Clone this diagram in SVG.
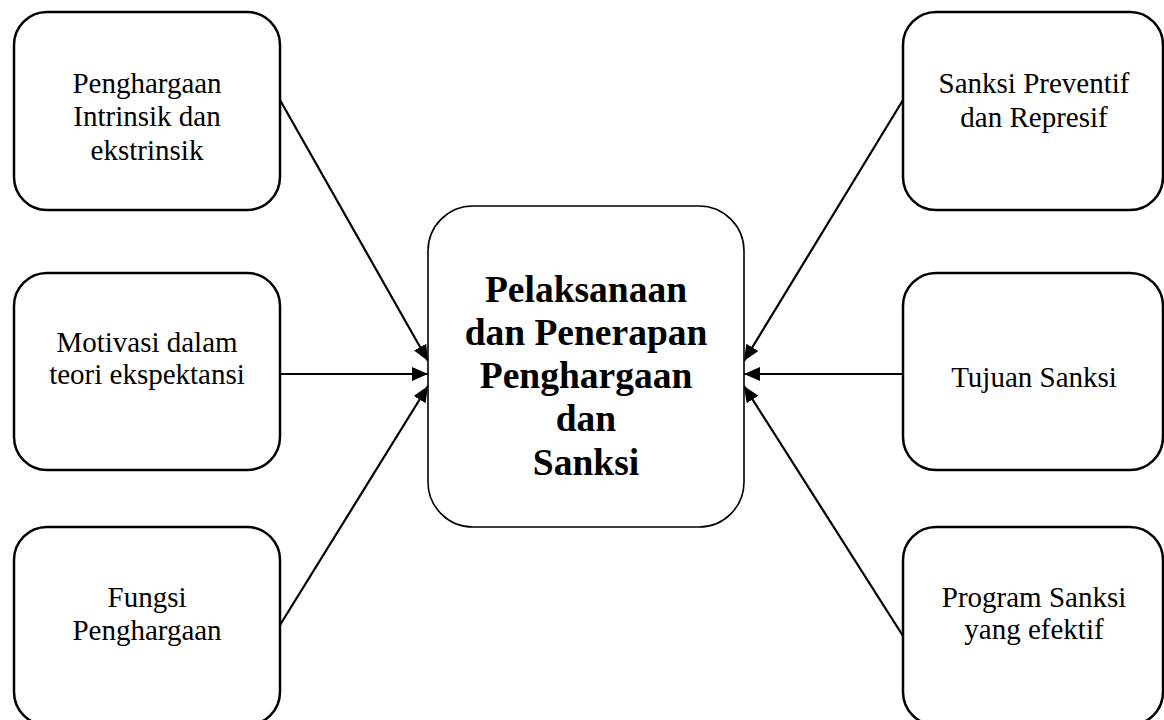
<svg xmlns="http://www.w3.org/2000/svg" width="1164" height="720" viewBox="0 0 1164 720">
<style>
.box{fill:#fff;stroke:#000;stroke-width:2.5}
.main{fill:#fff;stroke:#000;stroke-width:1.6}
.t{font-family:"Liberation Serif","Times New Roman",serif;font-size:29px;fill:#000;text-anchor:middle}
.b{font-family:"Liberation Serif","Times New Roman",serif;font-size:37.5px;font-weight:bold;fill:#000;text-anchor:middle}
.c{stroke:#000;stroke-width:2.2;fill:none;marker-end:url(#ah)}
</style>
<defs>
<marker id="ah" markerUnits="userSpaceOnUse" markerWidth="17" markerHeight="15" refX="16" refY="7" orient="auto">
<path d="M0,0 L16,7 L0,14 z" fill="#000"/>
</marker>
</defs>
<rect width="1164" height="720" fill="#fff"/>
<g id="connectors">
<line class="c" x1="280" y1="100" x2="428" y2="361"/>
<line class="c" x1="280" y1="374" x2="428" y2="374"/>
<line class="c" x1="280" y1="625" x2="428" y2="386"/>
<line class="c" x1="903" y1="100" x2="744" y2="361"/>
<line class="c" x1="903" y1="374" x2="744" y2="374"/>
<line class="c" x1="903" y1="636" x2="744" y2="386"/>
</g>
<g id="n-center">
<rect class="main" x="428" y="206" width="316" height="321" rx="45"/>
<text class="b" x="586" y="302">Pelaksanaan</text>
<text class="b" x="586" y="345">dan Penerapan</text>
<text class="b" x="586" y="388">Penghargaan</text>
<text class="b" x="586" y="431">dan</text>
<text class="b" x="586" y="475">Sanksi</text>
</g>
<g id="n-intrinsik">
<rect class="box" x="14" y="12" width="266" height="198" rx="33"/>
<text class="t" x="147" y="93">Penghargaan</text>
<text class="t" x="147" y="126">Intrinsik dan</text>
<text class="t" x="147" y="160">ekstrinsik</text>
</g>
<g id="n-motivasi">
<rect class="box" x="14" y="273" width="266" height="197" rx="33"/>
<text class="t" x="147" y="352">Motivasi dalam</text>
<text class="t" x="147" y="384">teori ekspektansi</text>
</g>
<g id="n-fungsi">
<rect class="box" x="14" y="527" width="266" height="198" rx="33"/>
<text class="t" x="147" y="607">Fungsi</text>
<text class="t" x="147" y="640">Penghargaan</text>
</g>
<g id="n-preventif">
<rect class="box" x="903" y="12" width="260" height="198" rx="33"/>
<text class="t" x="1034" y="93">Sanksi Preventif</text>
<text class="t" x="1034" y="127">dan Represif</text>
</g>
<g id="n-tujuan">
<rect class="box" x="903" y="273" width="260" height="197" rx="33"/>
<text class="t" x="1034" y="387">Tujuan Sanksi</text>
</g>
<g id="n-program">
<rect class="box" x="903" y="527" width="260" height="198" rx="33"/>
<text class="t" x="1034" y="607">Program Sanksi</text>
<text class="t" x="1034" y="639">yang efektif</text>
</g>
</svg>
